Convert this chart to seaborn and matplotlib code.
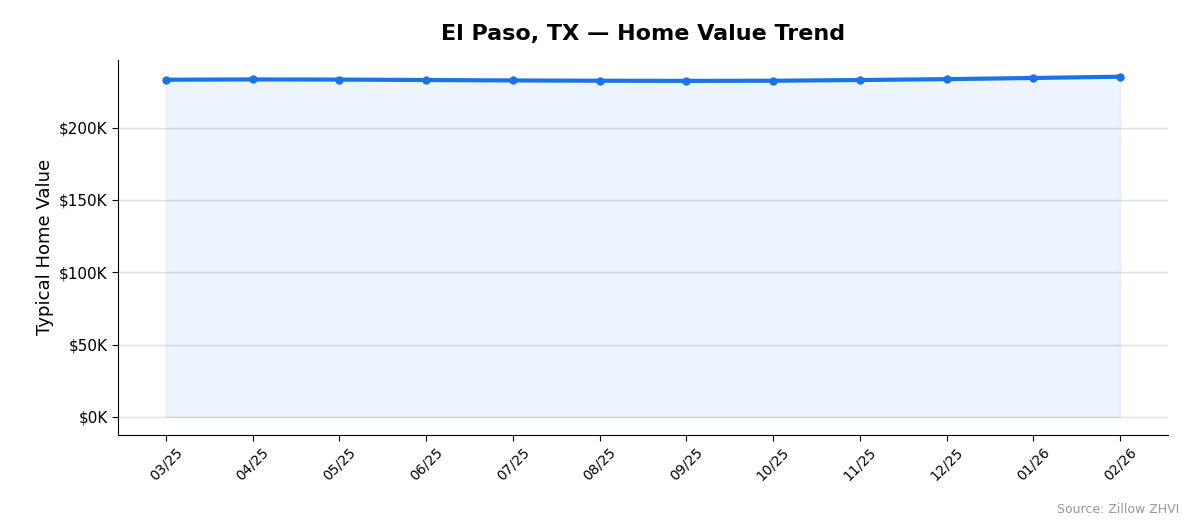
import matplotlib
matplotlib.use("Agg")
import matplotlib.pyplot as plt
import seaborn as sns
import pandas as pd
from matplotlib.ticker import FuncFormatter

months = ['03/25', '04/25', '05/25', '06/25', '07/25', '08/25',
          '09/25', '10/25', '11/25', '12/25', '01/26', '02/26']
values = [233200, 233400, 233300, 233000, 232700, 232500,
          232400, 232500, 233000, 233600, 234400, 235300]

df = pd.DataFrame({'month': months, 'value': values})
df['pos'] = range(len(df))

sns.set_style('white')
plt.rcParams.update({'text.color': 'black', 'axes.labelcolor': 'black',
                     'xtick.color': 'black', 'ytick.color': 'black',
                     'axes.edgecolor': 'black'})
fig, ax = plt.subplots(figsize=(11.94, 5.29), dpi=100)

ax.fill_between(df['pos'], df['value'], color='#1a73e8', alpha=0.08)
sns.lineplot(data=df, x='pos', y='value', ax=ax, color='#1a73e8',
             linewidth=3, marker='o', markersize=6, markeredgewidth=0)

ax.set_xticks(df['pos'])
ax.set_xticklabels(months, rotation=45, fontsize=10)
ax.yaxis.set_major_formatter(FuncFormatter(lambda v, p: f'${v/1000:.0f}K'))
ax.set_ylim(-12500, 247000)
ax.set_xlim(-0.55, 11.55)
ax.tick_params(axis='y', labelsize=11, left=True, length=4)
ax.tick_params(axis='x', bottom=True, length=4)
ax.grid(axis='y', color='#e0e0e0', linewidth=1)
ax.set_axisbelow(True)
sns.despine(ax=ax)
ax.set_xlabel('')
ax.set_ylabel('Typical Home Value', fontsize=13)
ax.set_title('El Paso, TX — Home Value Trend', fontsize=16, fontweight='bold', pad=14)

fig.text(0.988, 0.03, 'Source: Zillow ZHVI', ha='right', fontsize=9, color='#999999')
fig.subplots_adjust(left=0.099, right=0.978, top=0.887, bottom=0.178)
fig.savefig('out.png', dpi=100)
